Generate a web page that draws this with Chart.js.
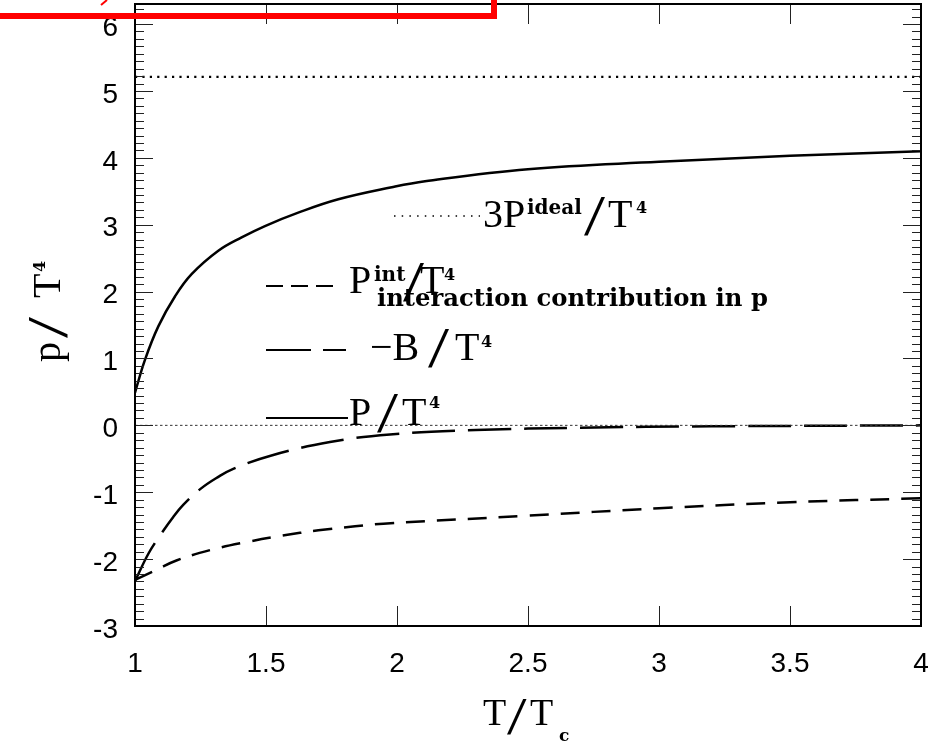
<!DOCTYPE html>
<html>
<head>
<meta charset="utf-8">
<script src="https://cdn.jsdelivr.net/npm/chart.js@4/dist/chart.umd.min.js"></script>
<style>
  html, body { margin: 0; padding: 0; background: #fff; }
  #wrap { width: 949px; height: 743px; position: relative; }
</style>
</head>
<body>
<div id="wrap"><canvas id="c" width="949" height="743"></canvas></div>
<script>
// Pressure P/T^4 (solid)
const pTemps  = [1.0, 1.038, 1.089, 1.153, 1.216, 1.318, 1.407, 1.496, 1.623, 1.776, 1.98, 2.107, 2.5, 3.0, 3.5, 4.0];
const pValues = [0.49, 0.98, 1.48, 1.93, 2.26, 2.61, 2.81, 2.98, 3.18, 3.38, 3.56, 3.65, 3.83, 3.94, 4.03, 4.10];

// Interaction contribution P^int/T^4 (short dashes)
const pintTemps  = [1.0, 1.082, 1.158, 1.292, 1.432, 1.56, 1.70, 1.84, 1.948, 2.5, 3.0, 3.5, 4.0];
const pintValues = [-2.31, -2.16, -2.02, -1.86, -1.74, -1.65, -1.57, -1.51, -1.47, -1.35, -1.24, -1.15, -1.09];

// Bag term -B/T^4 (long dashes)
const bagTemps  = [1.0, 1.051, 1.095, 1.146, 1.184, 1.25, 1.318, 1.375, 1.521, 1.744, 1.973, 2.3, 2.7, 3.2, 4.0];
const bagValues = [-2.33, -1.92, -1.65, -1.37, -1.19, -0.95, -0.77, -0.65, -0.45, -0.25, -0.135, -0.07, -0.035, -0.015, 0.0];

// Ideal-gas limit 3P^ideal/T^4 (dotted) and the zero reference line
const idealTemps  = [1.0, 4.0];
const idealValues = [5.21, 5.21];
const zeroTemps   = [1.0, 4.0];
const zeroValues  = [0, 0];

// Axis ranges and tick labels
const xRange = [1, 4];
const yRange = [-3, 6.3];
const xTickLabels = ['1', '1.5', '2', '2.5', '3', '3.5', '4'];
const yTickLabels = ['-3', '-2', '-1', '0', '1', '2', '3', '4', '5', '6'];

const pts = (xs, ys) => xs.map((x, i) => ({ x, y: ys[i] }));

const SERIF = "'Liberation Serif', 'Times New Roman', serif";
const DSERIF = "'DejaVu Serif', serif";

// Frame, inward ticks, legend, axis titles and the red marker
const decorations = {
  id: 'decorations',
  afterDraw(chart) {
    const { ctx, chartArea: a, scales: { x, y } } = chart;
    ctx.save();

    // inward ticks on the y axes: nine subdivisions per unit
    ctx.strokeStyle = '#222';
    ctx.lineWidth = 1;
    const steps = Math.floor((yRange[1] - yRange[0]) * 9 + 1e-6);
    for (let k = 1; k <= steps; k++) {
      const v = yRange[0] + k / 9;
      const py = Math.round(y.getPixelForValue(v)) + 0.5;
      const len = (k % 9 === 0) ? 18 : 9;
      ctx.beginPath();
      ctx.moveTo(a.left, py); ctx.lineTo(a.left + len, py);
      ctx.moveTo(a.right, py); ctx.lineTo(a.right - len, py);
      ctx.stroke();
    }
    // inward major ticks on the x axes
    x.ticks.forEach(t => {
      if (t.value <= xRange[0] || t.value >= xRange[1]) return;
      const px = Math.round(x.getPixelForValue(t.value)) + 0.5;
      ctx.beginPath();
      ctx.moveTo(px, a.bottom); ctx.lineTo(px, a.bottom - 20);
      ctx.moveTo(px, a.top); ctx.lineTo(px, a.top + 20);
      ctx.stroke();
    });

    // frame
    ctx.strokeStyle = '#000';
    ctx.lineWidth = 2;
    ctx.strokeRect(a.left, a.top, a.right - a.left, a.bottom - a.top);

    // text helper: pieces drawn one after another
    ctx.fillStyle = '#000';
    ctx.textBaseline = 'alphabetic';
    ctx.textAlign = 'left';
    const put = (t, font, px, py, sx) => {
      ctx.save();
      ctx.font = font;
      ctx.translate(px, py);
      if (sx) ctx.scale(sx, 1);
      ctx.fillText(t, 0, 0);
      ctx.restore();
    };
    const big = '40px ' + SERIF;
    const slash = '56px ' + SERIF;
    const supF = 'bold 20px ' + DSERIF;
    const fourF = 'bold 16px ' + DSERIF;

    const sample = (x0, x1, yy, dash, w) => {
      ctx.save();
      ctx.strokeStyle = '#000';
      ctx.lineWidth = w;
      ctx.setLineDash(dash);
      ctx.beginPath(); ctx.moveTo(x0, yy); ctx.lineTo(x1, yy); ctx.stroke();
      ctx.restore();
    };

    // 3P^ideal/T^4
    sample(394, 480, 216, [1.5, 6.2], 1.3);
    put('3P', big, 483, 227);
    put('ideal', supF, 527, 214);
    put('/', slash, 584, 235, 1.35);
    put('T', big, 608, 227);
    put('4', fourF, 636, 213);

    // P^int/T^4 with its description
    sample(266, 334, 286, [17, 8], 2);
    put('P', big, 349, 293);
    put('int', supF, 374, 281);
    put('/', slash, 403, 301, 1.35);
    put('T', big, 420, 293);
    put('4', fourF, 444, 280);
    {
      const txt = 'interaction contribution in p';
      ctx.font = 'bold 20px ' + DSERIF;
      const w = ctx.measureText(txt).width;
      const size = 20 * 391 / w;
      put(txt, 'bold ' + size.toFixed(2) + 'px ' + DSERIF, 377, 306);
    }

    // -B/T^4
    sample(266, 346, 350, [45, 12, 23, 100], 2);
    put('\u2212B', big, 370, 360);
    put('/', slash, 428, 367, 1.35);
    put('T', big, 455, 360);
    put('4', fourF, 481, 347);

    // P/T^4
    sample(266, 348, 418, [], 2);
    put('P', big, 349, 425);
    put('/', slash, 377, 432, 1.35);
    put('T', big, 402, 425);
    put('4', fourF, 429, 408);

    // y axis title p/T^4 (rotated)
    ctx.save();
    ctx.translate(60, 362);
    ctx.rotate(-Math.PI / 2);
    put('p', big, 0, 0);
    put('/', slash, 24, 7, 1.35);
    put('T', big, 64, 0);
    put('4', fourF, 90, -15);
    ctx.restore();

    // x axis title T/T_c
    const xc = (x.getPixelForValue(2.5));
    put('T', '38px ' + SERIF, xc - 45, 725);
    put('/', '52px ' + SERIF, xc - 21, 734, 1.35);
    put('T', '38px ' + SERIF, xc + 2, 725);
    put('c', 'bold 17px ' + DSERIF, xc + 31, 741);

    // red marker at the top left
    ctx.fillStyle = '#ff0000';
    ctx.fillRect(0, 13, 497, 6);
    ctx.fillRect(491, 0, 6, 19);
    ctx.strokeStyle = '#ff0000';
    ctx.lineWidth = 2;
    ctx.beginPath(); ctx.moveTo(101, 5); ctx.lineTo(107, 0); ctx.stroke();

    ctx.restore();
  }
};

const line = (data, dash, width, extra) => Object.assign({
  data, borderColor: '#000', borderWidth: width, borderDash: dash,
  pointRadius: 0, fill: false, tension: 0.4
}, extra || {});

new Chart(document.getElementById('c'), {
  type: 'line',
  data: {
    datasets: [
      line(pts(zeroTemps, zeroValues), [2.5, 2.5], 1, { borderColor: '#333', tension: 0 }),
      line(pts(idealTemps, idealValues), [2.2, 5.2], 2.2, { tension: 0 }),
      line(pts(pTemps, pValues), [], 2.5),
      line(pts(pintTemps, pintValues), [19, 12], 2.5),
      line(pts(bagTemps, bagValues), [43, 13], 2.5)
    ]
  },
  options: {
    responsive: false,
    animation: false,
    devicePixelRatio: 1,
    layout: { padding: { top: 4, right: 28, bottom: 0, left: 0 } },
    plugins: { legend: { display: false }, tooltip: { enabled: false } },
    scales: {
      x: {
        type: 'linear', min: xRange[0], max: xRange[1],
        grid: { display: false, drawTicks: false },
        border: { display: false },
        ticks: {
          stepSize: 0.5, padding: 21, color: '#000', maxRotation: 0,
          font: { family: "'Liberation Sans', Arial, sans-serif", size: 28 },
          callback: (v) => xTickLabels[Math.round((v - xRange[0]) * 2)] ?? ''
        },
        afterFit: (s) => { s.height = 117; s.paddingLeft = 0; s.paddingRight = 0; }
      },
      y: {
        type: 'linear', min: yRange[0], max: yRange[1],
        grid: { display: false, drawTicks: false },
        border: { display: false },
        ticks: {
          stepSize: 1, includeBounds: false, padding: 17, labelOffset: 4, color: '#000',
          font: { family: "'Liberation Sans', Arial, sans-serif", size: 28 },
          callback: (v) => yTickLabels[Math.round(v - yRange[0])] ?? ''
        },
        afterFit: (s) => { s.width = 135; s.paddingTop = 0; s.paddingBottom = 0; }
      }
    }
  },
  plugins: [decorations]
});
</script>
</body>
</html>
